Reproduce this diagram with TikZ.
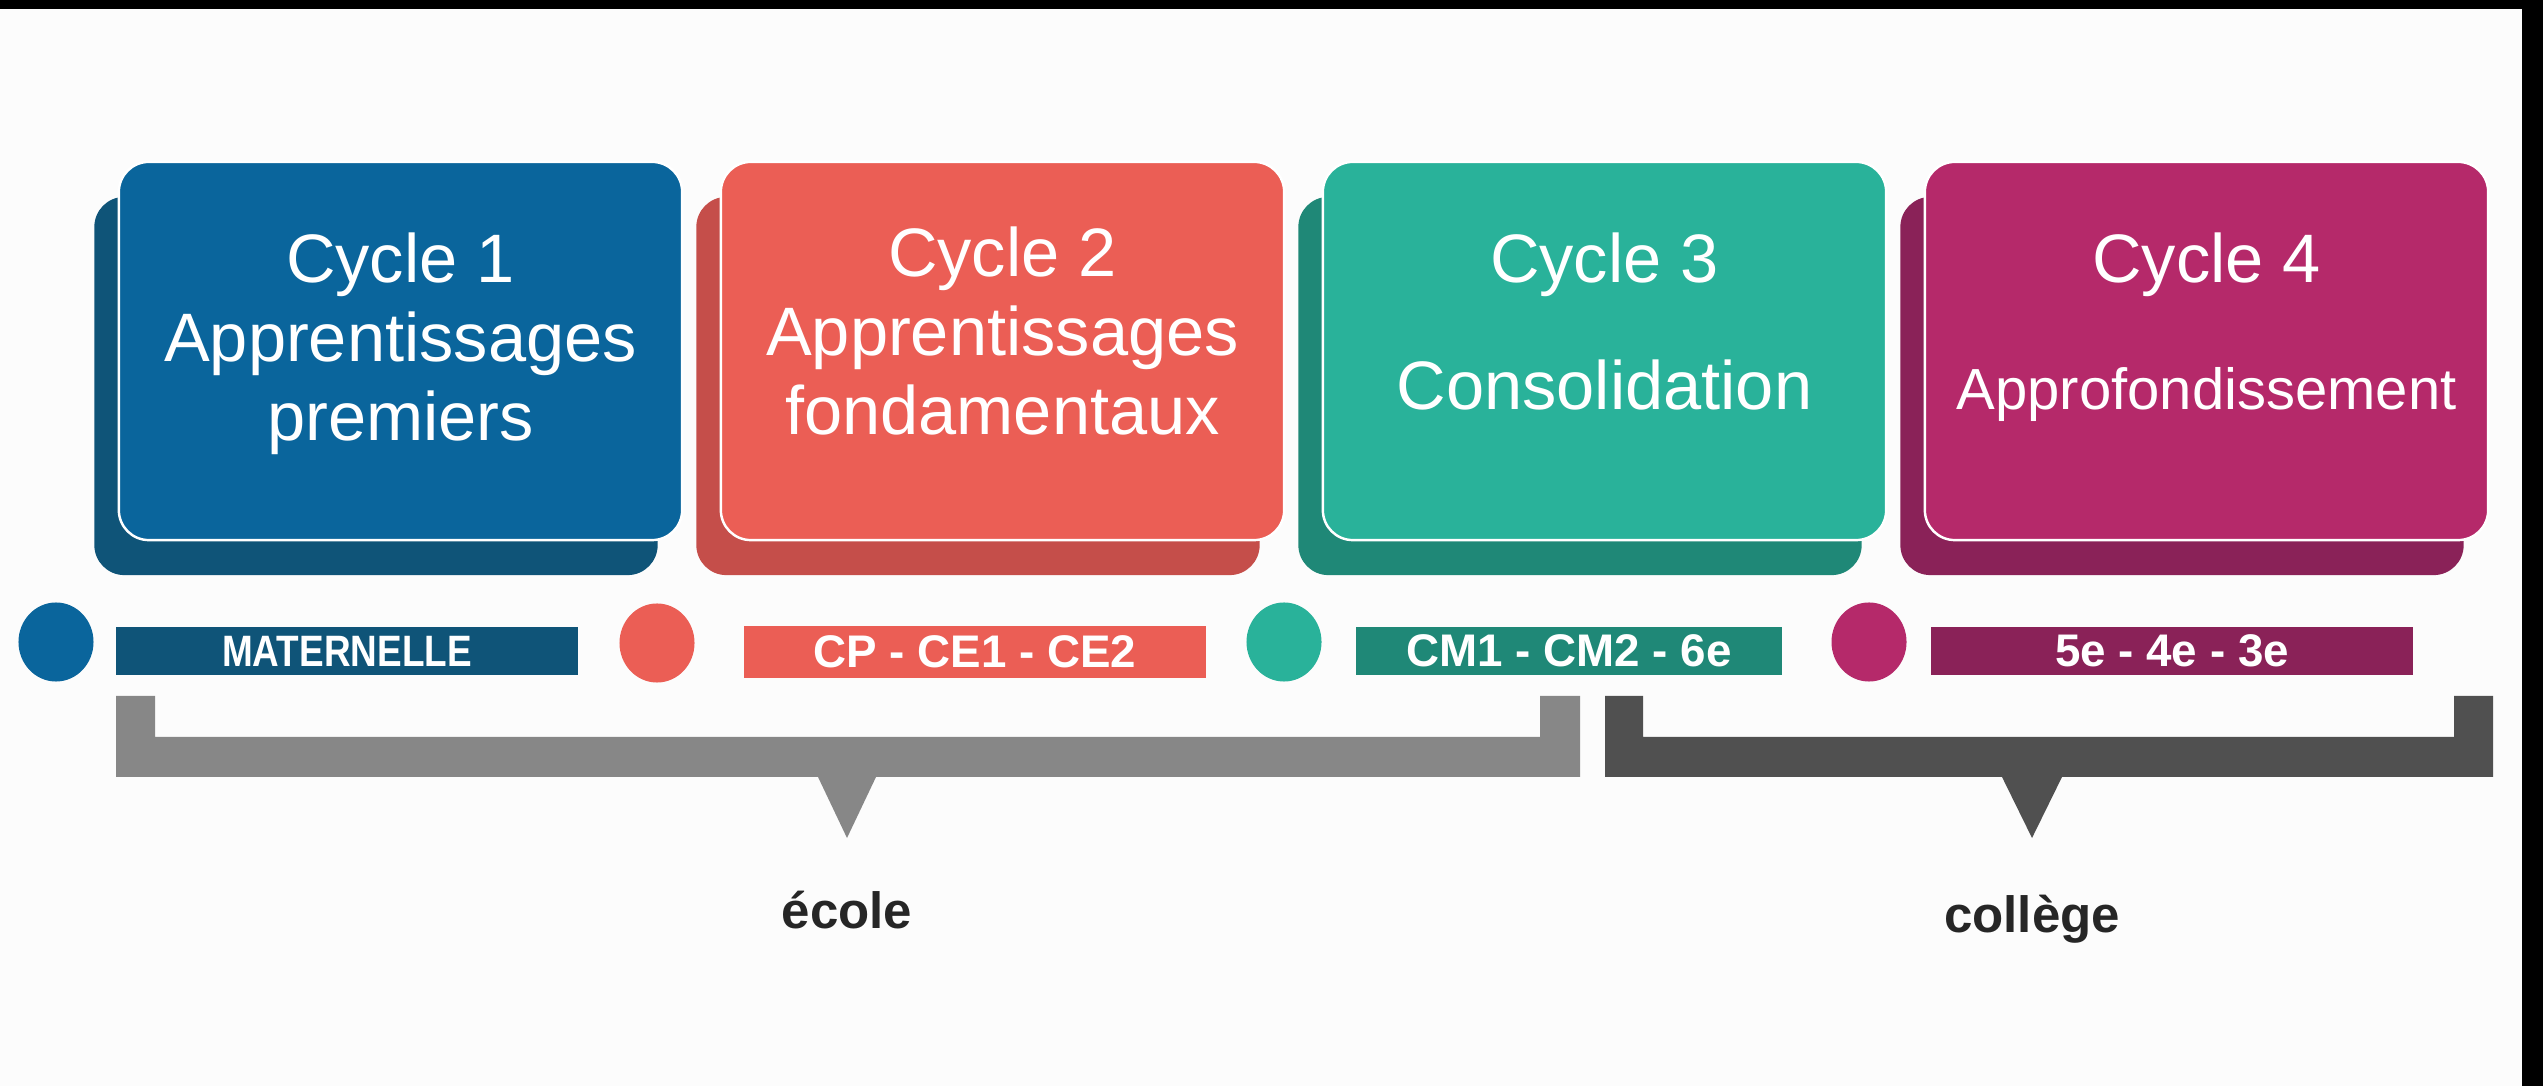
\documentclass[tikz,border=0pt]{standalone}
\usepackage{fontspec}
\usetikzlibrary{shapes.geometric}
\setmainfont{Liberation Sans}
\newfontfamily\narrowfont[FakeStretch=0.84]{Liberation Sans}

\definecolor{bleu}{HTML}{0A659C}
\definecolor{bleufonce}{HTML}{0F5478}
\definecolor{corail}{HTML}{EB5E55}
\definecolor{corailfonce}{HTML}{C54E4A}
\definecolor{vert}{HTML}{29B29A}
\definecolor{vertfonce}{HTML}{1F8877}
\definecolor{prune}{HTML}{B5296A}
\definecolor{prunefonce}{HTML}{8A2258}
\definecolor{grisclair}{HTML}{878787}
\definecolor{grisfonce}{HTML}{505050}

\tikzset{
  card/.style={rectangle, rounded corners=0.3cm, minimum width=5.63cm, minimum height=3.78cm, inner sep=0pt},
  cardback/.style={card},
  cardfront/.style={card, draw=white, line width=0.7pt},
  cycletext/.style={anchor=base, text=white, inner sep=0pt, font=\fontsize{19.5}{22}\selectfont},
  dot/.style={ellipse, inner sep=0pt, minimum width=0.75cm, minimum height=0.79cm},
  gradebar/.style={rectangle, inner sep=0pt, minimum height=0.48cm, text=white, font=\bfseries\fontsize{13}{15}\selectfont},
  stagelabel/.style={anchor=base, text=black!85, inner sep=0pt, font=\bfseries\fontsize{14.5}{18}\selectfont}
}

\begin{document}
\begin{tikzpicture}[x=0.01cm, y=-0.01cm]
    \useasboundingbox (0,0) rectangle (2543,1086);
    % fond et bords noirs
    \fill[white!99!black] (0,0) rectangle (2543,1086);
    \fill[black] (0,0) rectangle (2543,9);
    \fill[black] (2522,0) rectangle (2543,1086);

    % Cycle 1
    \node[cardback, fill=bleufonce] (c1back) at (376,386) {};
    \node[cardfront, fill=bleu] (c1) at (400.5,351) {};
    \node[cycletext] (c1a) at (400.5,283) {Cycle 1};
    \node[cycletext] (c1b) at (400.5,362) {Apprentissages};
    \node[cycletext] (c1c) at (400.5,441) {premiers};

    % Cycle 2
    \node[cardback, fill=corailfonce] (c2back) at (978,386) {};
    \node[cardfront, fill=corail] (c2) at (1002.5,351) {};
    \node[cycletext] (c2a) at (1002.5,277) {Cycle 2};
    \node[cycletext] (c2b) at (1002.5,356) {Apprentissages};
    \node[cycletext] (c2c) at (1002.5,435) {fondamentaux};

    % Cycle 3
    \node[cardback, fill=vertfonce] (c3back) at (1580,386) {};
    \node[cardfront, fill=vert] (c3) at (1604.5,351) {};
    \node[cycletext] (c3a) at (1604.5,283) {Cycle 3};
    \node[cycletext] (c3b) at (1604.5,410) {Consolidation};

    % Cycle 4
    \node[cardback, fill=prunefonce] (c4back) at (2182,386) {};
    \node[cardfront, fill=prune] (c4) at (2206.5,351) {};
    \node[cycletext] (c4a) at (2206.5,283) {Cycle 4};
    \node[cycletext, font=\fontsize{16.5}{20}\selectfont] (c4b) at (2206.5,410) {Approfondissement};

    % pastilles et classes
    \node[dot, fill=bleu] (d1) at (56,642) {};
    \node[gradebar, fill=bleufonce, minimum width=4.62cm, font=\narrowfont\bfseries\fontsize{12.5}{15}\selectfont] (g1) at (347,651) {MATERNELLE};

    \node[dot, fill=corail] (d2) at (657,643) {};
    \node[gradebar, fill=corail, minimum width=4.62cm, minimum height=0.51cm] (g2) at (975,652) {CP - CE1 - CE2};

    \node[dot, fill=vert] (d3) at (1284,642) {};
    \node[gradebar, fill=vertfonce, minimum width=4.26cm] (g3) at (1569,651) {CM1 - CM2 - 6e};

    \node[dot, fill=prune] (d4) at (1869,642) {};
    \node[gradebar, fill=prunefonce, minimum width=4.82cm] (g4) at (2172,651) {5e - 4e - 3e};

    % accolade école
    \fill[grisclair] (116,696) -- (155,696) -- (155,737) -- (1540,737) -- (1540,696) -- (1580,696)
        -- (1580,777) -- (876,777) -- (847,838) -- (818,777) -- (116,777) -- cycle;
    \node[stagelabel] (ecole) at (847,928) {école};

    % accolade collège
    \fill[grisfonce] (1605,696) -- (1643,696) -- (1643,737) -- (2454,737) -- (2454,696) -- (2493,696)
        -- (2493,777) -- (2062,777) -- (2032,838) -- (2002,777) -- (1605,777) -- cycle;
    \node[stagelabel] (college) at (2032,932) {collège};
\end{tikzpicture}
\end{document}
